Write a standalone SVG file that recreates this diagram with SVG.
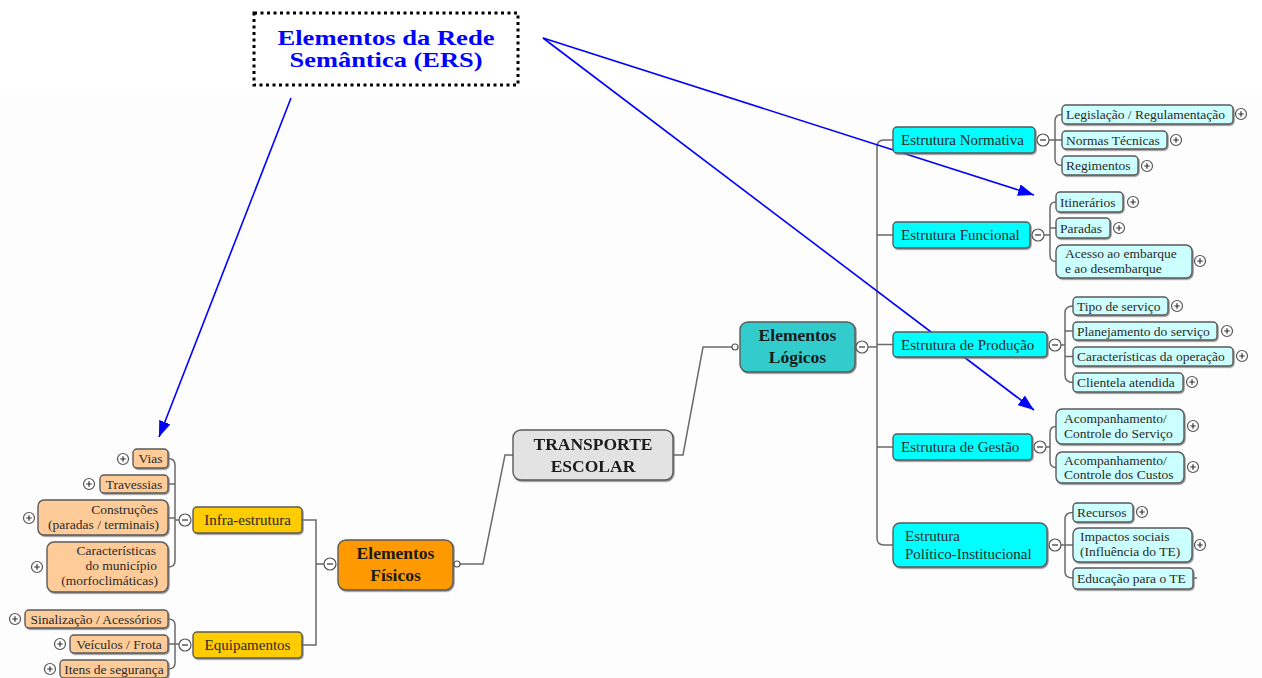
<svg xmlns="http://www.w3.org/2000/svg" width="1262" height="678" viewBox="0 0 1262 678">
<defs>
<style>
.bx{stroke:#5a5a5a;stroke-width:1.4}
.peach{fill:#ffcc99}
.yel{fill:#ffcc00}
.cyan{fill:#00ffff}
.lc{fill:#ccffff}
.t{font-family:"Liberation Serif","Times New Roman",serif;fill:#2a2a2a}
.leaf{font-size:13.5px}
.l2{font-size:15px}
.l1{font-size:17.5px;font-weight:bold;fill:#1a1a1a}
.ln{fill:none;stroke:#6a6a6a;stroke-width:1.5}
.btn{fill:#fff;stroke:#555;stroke-width:1.2}
.sym{stroke:#333;stroke-width:1.2}
.arr{stroke:#0000ff;stroke-width:1.6;fill:none;marker-end:url(#ah)}
.ttl{font-family:"Liberation Serif","Times New Roman",serif;font-size:21px;font-weight:bold;fill:#0000ff;text-anchor:middle}
</style>
<filter id="sh" x="-10%" y="-20%" width="130%" height="150%">
<feDropShadow dx="1" dy="1.2" stdDeviation="0.7" flood-color="#777" flood-opacity="0.8"/>
</filter>
<marker id="ah" viewBox="0 0 16 12" refX="16" refY="6" markerWidth="16" markerHeight="12" markerUnits="userSpaceOnUse" orient="auto">
<path d="M0,0 L16,6 L0,12 Z" fill="#0000ff"/>
</marker>
<g id="plus"><circle class="btn" r="5.5"/><path class="sym" d="M-2.8,0 H2.8 M0,-2.8 V2.8"/></g>
<g id="minus"><circle class="btn" r="6"/><path class="sym" d="M-3,0 H3"/></g>
</defs>
<rect x="0" y="0" width="1262" height="678" fill="#ffffff"/>
<rect x="0" y="95" width="1262" height="583" fill="#fdfdfd"/>

<g id="connectors">
<path class="ln" d="M168,458.5 Q175,458.5 175,465 V561 Q175,567 168,567 M168,484 H175 M168,518 H175 M175,520 H179"/>
<path class="ln" d="M168,619 Q175,619 175,625 V663 Q175,669 168,669 M168,644 H179"/>
<path class="ln" d="M302,520 H316 V645 H302 M316,564 H324"/>
<path class="ln" d="M460,564 H483 L505,455 H513"/>
<path class="ln" d="M673,455 H683 L703,347 H732"/>
<path class="ln" d="M868,347 H877 M893,140 H884 Q877,140 877,147 V538 Q877,545 884,545 H893 M877,235 H893 M877,344.5 H893 M877,447 H893"/>
<path class="ln" d="M1062,114.5 Q1055,114.5 1055,121 V159 Q1055,165.5 1062,165.5 M1049,140 H1062"/>
<path class="ln" d="M1056,202 Q1050,202 1050,208 V255 Q1050,261.5 1056,261.5 M1044,235 H1050 M1050,228 H1056"/>
<path class="ln" d="M1073,306 Q1065,306 1065,313 V375 Q1065,382.5 1073,382.5 M1061,345 H1065 M1065,331 H1073 M1065,356.5 H1073"/>
<path class="ln" d="M1056,426.5 Q1050,426.5 1050,433 V461 Q1050,467.5 1056,467.5 M1046,447 H1050"/>
<path class="ln" d="M1073,512.5 Q1065,512.5 1065,519 V572 Q1065,578 1073,578 M1061,545 H1073 M1193,578 H1197"/>
<path class="arr" d="M291,98 L159,437"/>
<path class="arr" d="M543,38 L1034,195"/>
<path class="arr" d="M543,38 L1034,410"/>
</g>

<g id="title">
<rect x="254" y="13" width="264" height="72" fill="#fff" stroke="#000" stroke-width="3" stroke-dasharray="3,3.5"/>
<text class="ttl" x="386" y="45" textLength="217" lengthAdjust="spacingAndGlyphs">Elementos da Rede</text>
<text class="ttl" x="386" y="67" textLength="193" lengthAdjust="spacingAndGlyphs">Semântica (ERS)</text>
</g>

<g id="n-transporte" filter="url(#sh)"><rect class="bx" x="513" y="430" width="160" height="50" rx="8" fill="#e3e3e3"/>
<text class="t l1" x="593" y="450" text-anchor="middle">TRANSPORTE</text><text class="t l1" x="593" y="472" text-anchor="middle">ESCOLAR</text></g>

<g id="n-fisicos"><rect class="bx" x="338" y="540" width="115" height="50" rx="8" fill="#ff9900" filter="url(#sh)"/>
<text class="t l1" x="395.5" y="559" text-anchor="middle">Elementos</text><text class="t l1" x="395.5" y="581" text-anchor="middle">Físicos</text>
<use href="#minus" x="330" y="564"/><circle class="btn" cx="457" cy="564" r="3"/></g>

<g id="n-logicos"><rect class="bx" x="740" y="322" width="115" height="50" rx="8" fill="#33cccc" filter="url(#sh)"/>
<text class="t l1" x="797.5" y="341" text-anchor="middle">Elementos</text><text class="t l1" x="797.5" y="363" text-anchor="middle">Lógicos</text>
<use href="#minus" x="862" y="347"/><circle class="btn" cx="735" cy="347" r="3"/></g>

<g id="n-infra"><rect class="bx yel" x="193" y="507" width="109" height="26" rx="4" filter="url(#sh)"/>
<text class="t l2" x="247.5" y="525" text-anchor="middle">Infra-estrutura</text><use href="#minus" x="185" y="520"/></g>
<g id="n-equip"><rect class="bx yel" x="193" y="632" width="109" height="26" rx="4" filter="url(#sh)"/>
<text class="t l2" x="247.5" y="650" text-anchor="middle">Equipamentos</text><use href="#minus" x="185" y="645"/></g>

<g id="n-vias"><rect class="bx peach" x="133" y="449" width="35" height="19" rx="4" filter="url(#sh)"/>
<text class="t leaf" x="150.5" y="463" text-anchor="middle">Vias</text><use href="#plus" x="123" y="459"/></g>
<g id="n-travessias"><rect class="bx peach" x="100" y="475" width="68" height="18" rx="4" filter="url(#sh)"/>
<text class="t leaf" x="134" y="488.5" text-anchor="middle">Travessias</text><use href="#plus" x="89" y="484"/></g>
<g id="n-construcoes"><rect class="bx peach" x="38" y="500" width="130" height="35" rx="6" filter="url(#sh)"/>
<text class="t leaf" x="158" y="514" text-anchor="end">Construções</text><text class="t leaf" x="159" y="529" text-anchor="end">(paradas / terminais)</text><use href="#plus" x="29" y="518"/></g>
<g id="n-caracteristicas"><rect class="bx peach" x="47" y="542" width="121" height="50" rx="7" filter="url(#sh)"/>
<text class="t leaf" x="156" y="555" text-anchor="end">Características</text><text class="t leaf" x="157" y="570" text-anchor="end">do município</text><text class="t leaf" x="158" y="585" text-anchor="end">(morfoclimáticas)</text><use href="#plus" x="37" y="567"/></g>
<g id="n-sinalizacao"><rect class="bx peach" x="25" y="610" width="143" height="18" rx="4" filter="url(#sh)"/>
<text class="t leaf" x="96" y="623.5" text-anchor="middle">Sinalização / Acessórios</text><use href="#plus" x="15" y="619"/></g>
<g id="n-veiculos"><rect class="bx peach" x="70" y="635" width="98" height="18" rx="4" filter="url(#sh)"/>
<text class="t leaf" x="119" y="648.5" text-anchor="middle">Veículos / Frota</text><use href="#plus" x="60" y="644"/></g>
<g id="n-itens"><rect class="bx peach" x="60" y="660" width="108" height="18" rx="4" filter="url(#sh)"/>
<text class="t leaf" x="114" y="673.5" text-anchor="middle">Itens de segurança</text><use href="#plus" x="50" y="669"/></g>

<g id="n-normativa"><rect class="bx cyan" x="893" y="127" width="142" height="26" rx="4" filter="url(#sh)"/>
<text class="t l2" x="901" y="145">Estrutura Normativa</text><use href="#minus" x="1043" y="140"/></g>
<g id="n-funcional"><rect class="bx cyan" x="893" y="222" width="137" height="26" rx="4" filter="url(#sh)"/>
<text class="t l2" x="901" y="240">Estrutura Funcional</text><use href="#minus" x="1038" y="235"/></g>
<g id="n-producao"><rect class="bx cyan" x="893" y="332" width="154" height="25" rx="4" filter="url(#sh)"/>
<text class="t l2" x="901" y="349.5">Estrutura de Produção</text><use href="#minus" x="1055" y="345"/></g>
<g id="n-gestao"><rect class="bx cyan" x="893" y="434" width="139" height="26" rx="4" filter="url(#sh)"/>
<text class="t l2" x="901" y="452">Estrutura de Gestão</text><use href="#minus" x="1040" y="447"/></g>
<g id="n-politico"><rect class="bx cyan" x="893" y="523" width="154" height="44" rx="7" filter="url(#sh)"/>
<text class="t l2" x="905" y="541">Estrutura</text><text class="t l2" x="905" y="559">Político-Institucional</text><use href="#minus" x="1055" y="545"/></g>

<g id="n-legislacao"><rect class="bx lc" x="1062" y="105" width="171" height="19" rx="4" filter="url(#sh)"/>
<text class="t leaf" x="1066" y="119">Legislação / Regulamentação</text><use href="#plus" x="1241" y="114"/></g>
<g id="n-normas"><rect class="bx lc" x="1062" y="131" width="105" height="18" rx="4" filter="url(#sh)"/>
<text class="t leaf" x="1066" y="144.5">Normas Técnicas</text><use href="#plus" x="1176" y="140"/></g>
<g id="n-regimentos"><rect class="bx lc" x="1062" y="156" width="76" height="19" rx="4" filter="url(#sh)"/>
<text class="t leaf" x="1066" y="170">Regimentos</text><use href="#plus" x="1147" y="166"/></g>

<g id="n-itinerarios"><rect class="bx lc" x="1056" y="192" width="67" height="20" rx="4" filter="url(#sh)"/>
<text class="t leaf" x="1060" y="206.5">Itinerários</text><use href="#plus" x="1133" y="202"/></g>
<g id="n-paradas"><rect class="bx lc" x="1056" y="218" width="54" height="20" rx="4" filter="url(#sh)"/>
<text class="t leaf" x="1060" y="232.5">Paradas</text><use href="#plus" x="1119" y="228"/></g>
<g id="n-acesso"><rect class="bx lc" x="1056" y="245" width="136" height="33" rx="6" filter="url(#sh)"/>
<text class="t leaf" x="1065" y="258">Acesso ao embarque</text><text class="t leaf" x="1065" y="273">e ao desembarque</text><use href="#plus" x="1200" y="261"/></g>

<g id="n-tipo"><rect class="bx lc" x="1073" y="297" width="95" height="18" rx="4" filter="url(#sh)"/>
<text class="t leaf" x="1077" y="310.5">Tipo de serviço</text><use href="#plus" x="1177" y="306"/></g>
<g id="n-planejamento"><rect class="bx lc" x="1073" y="322" width="144" height="18" rx="4" filter="url(#sh)"/>
<text class="t leaf" x="1077" y="335.5">Planejamento do serviço</text><use href="#plus" x="1227" y="331"/></g>
<g id="n-operacao"><rect class="bx lc" x="1073" y="347" width="160" height="19" rx="4" filter="url(#sh)"/>
<text class="t leaf" x="1077" y="361">Características da operação</text><use href="#plus" x="1242" y="356"/></g>
<g id="n-clientela"><rect class="bx lc" x="1073" y="373" width="110" height="19" rx="4" filter="url(#sh)"/>
<text class="t leaf" x="1077" y="387">Clientela atendida</text><use href="#plus" x="1192" y="382"/></g>

<g id="n-acomp-servico"><rect class="bx lc" x="1056" y="409" width="128" height="35" rx="6" filter="url(#sh)"/>
<text class="t leaf" x="1064" y="423">Acompanhamento/</text><text class="t leaf" x="1064" y="438">Controle do Serviço</text><use href="#plus" x="1193" y="426"/></g>
<g id="n-acomp-custos"><rect class="bx lc" x="1056" y="452" width="128" height="31" rx="6" filter="url(#sh)"/>
<text class="t leaf" x="1064" y="465">Acompanhamento/</text><text class="t leaf" x="1064" y="479">Controle dos Custos</text><use href="#plus" x="1193" y="467"/></g>

<g id="n-recursos"><rect class="bx lc" x="1073" y="503" width="60" height="19" rx="4" filter="url(#sh)"/>
<text class="t leaf" x="1077" y="517">Recursos</text><use href="#plus" x="1142" y="512"/></g>
<g id="n-impactos"><rect class="bx lc" x="1073" y="528" width="119" height="34" rx="6" filter="url(#sh)"/>
<text class="t leaf" x="1080" y="541">Impactos sociais</text><text class="t leaf" x="1080" y="556">(Influência do TE)</text><use href="#plus" x="1200" y="545"/></g>
<g id="n-educacao"><rect class="bx lc" x="1073" y="568" width="120" height="21" rx="4" filter="url(#sh)"/>
<text class="t leaf" x="1077" y="583">Educação para o TE</text></g>
</svg>
